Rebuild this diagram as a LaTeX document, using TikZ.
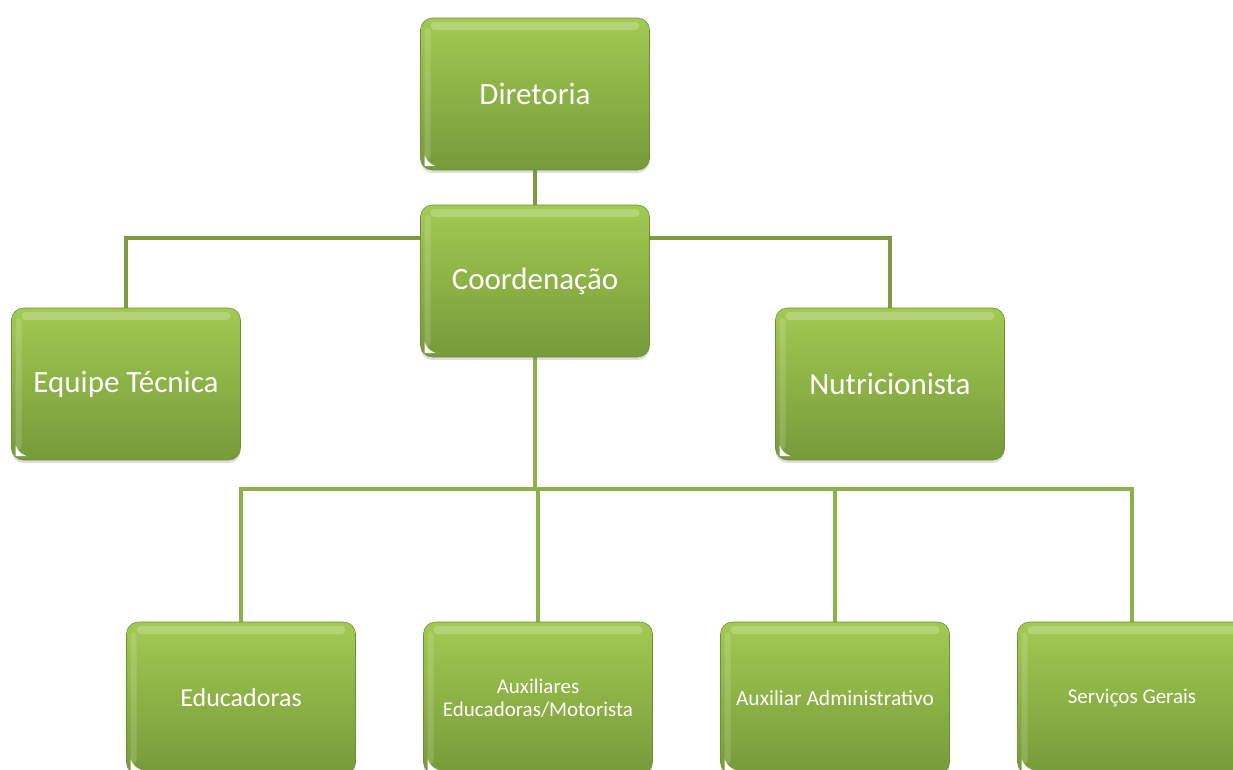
\documentclass[tikz,border=0pt]{standalone}
\usepackage{fontspec}
\setmainfont{Carlito}
\usetikzlibrary{shadows,backgrounds}

\definecolor{boxtop}{HTML}{A2CA52}
\definecolor{boxbottom}{HTML}{779A3A}
\definecolor{boxedge}{HTML}{6E9034}
\definecolor{linkup}{HTML}{7F9A42}
\definecolor{linkdown}{HTML}{8DB24B}

\tikzset{
  orgbox/.style={rounded corners=12pt, top color=boxtop, bottom color=boxbottom,
    draw=boxedge, line width=0.6pt, minimum width=229pt, minimum height=152pt,
    text=white, align=center, font=\fontsize{31}{36}\selectfont,
    drop shadow={opacity=0.25, shadow xshift=0pt, shadow yshift=-3pt},
    path picture={
      \fill[white, opacity=0.22, rounded corners=4pt]
        ([shift={(10pt,-4pt)}]path picture bounding box.north west)
        rectangle ([shift={(-10pt,-12pt)}]path picture bounding box.north east);
      \fill[white, opacity=0.15, rounded corners=4pt]
        ([shift={(4pt,-10pt)}]path picture bounding box.north west)
        rectangle ([shift={(10pt,10pt)}]path picture bounding box.south west);
      \fill[white, sharp corners]
        ([shift={(4pt,4pt)}]path picture bounding box.south west)
        -- ++(11pt,0pt) to[bend left=25] ++(-11pt,11pt) -- cycle;
    }},
  link/.style={line width=4.5pt},
}

\begin{document}
\begin{tikzpicture}[x=1pt, y=-1pt]
  \useasboundingbox (0,0) rectangle (1233,769);

  % Boxes
  \node[orgbox] (dir) at (535,94) {Diretoria};
  \node[orgbox] (coord) at (535,281) {Coordenação};
  \node[orgbox] (tec) at (126,384) {Equipe Técnica};
  \node[orgbox] (nut) at (890,384) {Nutricionista};

  \node[orgbox, font=\fontsize{26}{30}\selectfont] (edu) at (241,698) {Educadoras};
  \node[orgbox, font=\fontsize{21}{23}\selectfont] (aux) at (538,698)
    {Auxiliares\\Educadoras/Motorista};
  \node[orgbox, font=\fontsize{21.5}{24}\selectfont] (adm) at (835,698)
    {Auxiliar Administrativo};
  \node[orgbox, font=\fontsize{21}{24}\selectfont] (serv) at (1132,698)
    {Serviços Gerais};

  % Arcs
  \coordinate (upbar) at (535,238);
  \coordinate (lowbar) at (535,489);
  \begin{scope}[on background layer]
    \draw[link, linkup] (dir.south) -- (coord.north);
    \draw[link, linkup] (tec.north) |- (upbar) -| (nut.north);
    \draw[link, linkdown] (coord.south) -- (lowbar);
    \draw[link, linkdown] (edu.north) |- (lowbar) -| (serv.north);
    \draw[link, linkdown] (aux.north) -- (aux.north |- lowbar);
    \draw[link, linkdown] (adm.north) -- (adm.north |- lowbar);
  \end{scope}
\end{tikzpicture}
\end{document}
